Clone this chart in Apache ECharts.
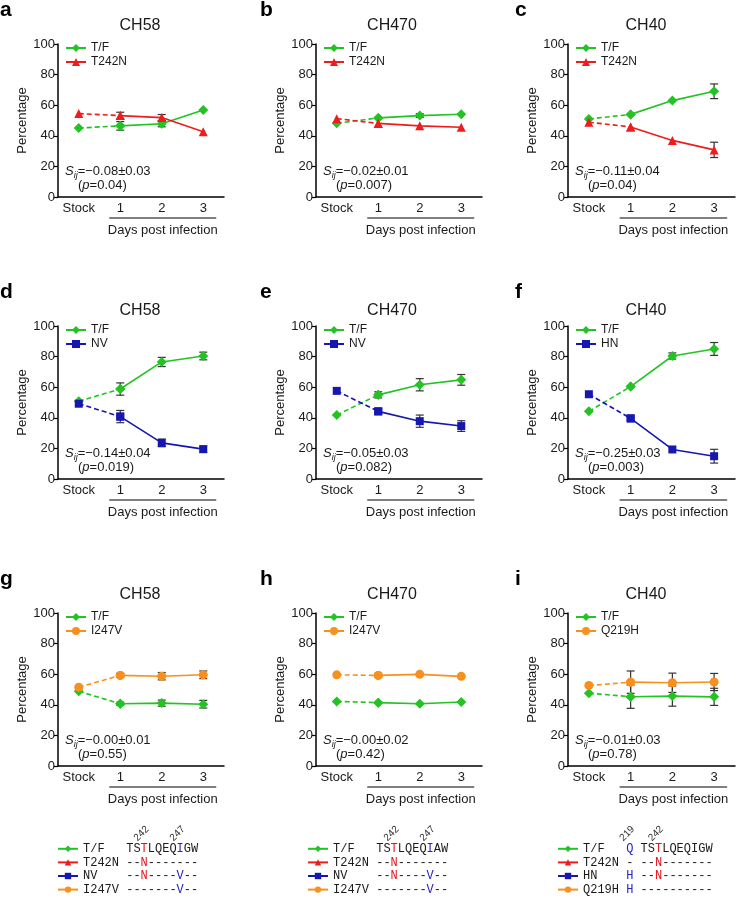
<!DOCTYPE html>
<html lang="en">
<head>
<meta charset="UTF-8">
<title>T/F vs variant competition</title>
<script src="https://cdn.jsdelivr.net/npm/echarts@6/dist/echarts.min.js"></script>
<style>
  html, body { margin: 0; padding: 0; background: #fff; }
  #main { width: 737px; height: 900px; }
</style>
</head>
<body>
<div id="main"></div>
<script>
const days = ['Stock', '1', '2', '3'];

// a-c : T/F vs T242N
const aTF = [45.1, 46.5, 47.9, 56.9], aTFErr = [0, 2.8, 2.0, 0];
const aMut = [54.5, 53.2, 51.9, 42.6], aMutErr = [0, 2.2, 2.0, 0];
const bTF = [48.2, 51.7, 53.2, 54.1], bTFErr = [0, 0, 1.2, 0];
const bMut = [51.2, 48.1, 46.5, 45.6], bMutErr = [0, 0, 0, 0];
const cTF = [51.0, 54.0, 63.0, 69.1], cTFErr = [0, 0, 0, 4.8];
const cMut = [48.9, 45.8, 37.0, 30.8], cMutErr = [0, 0, 0, 5.0];
// d-f : T/F vs NV / HN
const dTF = [50.8, 58.8, 76.5, 80.4], dTFErr = [0, 4.0, 3.0, 2.5];
const dMut = [49.2, 40.8, 23.6, 19.5], dMutErr = [0, 4.0, 2.5, 2.0];
const eTF = [41.8, 55.0, 61.6, 64.8], eTFErr = [0, 2.0, 4.0, 3.5];
const eMut = [57.6, 44.2, 37.8, 34.6], eMutErr = [0, 1.5, 4.0, 3.5];
const fTF = [44.2, 60.4, 80.4, 85.0], fTFErr = [0, 0, 2.0, 4.2];
const fMut = [55.4, 39.6, 19.3, 14.9], fMutErr = [0, 0, 0, 4.5];
// g-i : T/F vs I247V / Q219H
const gTF = [48.8, 40.7, 41.1, 40.4], gTFErr = [0, 1.0, 2.0, 2.5];
const gMut = [51.5, 59.2, 58.7, 59.6], gMutErr = [0, 1.0, 2.4, 2.5];
const hTF = [42.2, 41.4, 40.7, 41.8], hTFErr = [0, 0, 0, 0];
const hMut = [59.6, 59.2, 59.9, 58.6], hMutErr = [0, 0, 0, 0];
const iTF = [47.6, 45.3, 45.7, 45.2], iTFErr = [0, 7.6, 6.6, 5.6];
const iMut = [52.6, 54.8, 54.4, 54.9], iMutErr = [0, 7.3, 6.3, 5.6];

const letters = ['a', 'b', 'c', 'd', 'e', 'f', 'g', 'h', 'i'];
const titles = ['CH58', 'CH470', 'CH40', 'CH58', 'CH470', 'CH40', 'CH58', 'CH470', 'CH40'];
const mutNames = ['T242N', 'T242N', 'T242N', 'NV', 'NV', 'HN', 'I247V', 'I247V', 'Q219H'];
const sValues = ['−0.08±0.03', '−0.02±0.01', '−0.11±0.04', '−0.14±0.04', '−0.05±0.03', '−0.25±0.03', '−0.00±0.01', '−0.00±0.02', '−0.01±0.03'];
const pValues = ['0.04', '0.007', '0.04', '0.019', '0.082', '0.003', '0.55', '0.42', '0.78'];

const tfData = [aTF, bTF, cTF, dTF, eTF, fTF, gTF, hTF, iTF];
const tfErr = [aTFErr, bTFErr, cTFErr, dTFErr, eTFErr, fTFErr, gTFErr, hTFErr, iTFErr];
const mutData = [aMut, bMut, cMut, dMut, eMut, fMut, gMut, hMut, iMut];
const mutErr = [aMutErr, bMutErr, cMutErr, dMutErr, eMutErr, fMutErr, gMutErr, hMutErr, iMutErr];

const FONT = '"Liberation Sans", Arial, sans-serif';
const MONO = '"Liberation Mono", "DejaVu Sans Mono", monospace';
const GREEN = '#22c322', RED = '#ee1c1c', BLUE = '#1616b0', ORANGE = '#f7901e';
const INK = '#1a1a1a';

const markStyle = {
  'T/F':   { color: GREEN, symbol: 'diamond', size: 10 },
  'T242N': { color: RED, symbol: 'triangle', size: 9 },
  'NV':    { color: BLUE, symbol: 'rect', size: 8 },
  'HN':    { color: BLUE, symbol: 'rect', size: 8 },
  'I247V': { color: ORANGE, symbol: 'circle', size: 9 },
  'Q219H': { color: ORANGE, symbol: 'circle', size: 9 }
};

// layout
const colLeft = [58, 316, 568], colWidth = [166, 166, 167];
const rowTop = [44, 326, 613], gridH = 153;
const titleX = [140, 392, 646], titleTop = [18, 303, 587];
const letterX = [0, 260, 515];

const chart = echarts.init(document.getElementById('main'), null, { renderer: 'canvas' });

const option = {
  animation: false,
  textStyle: { fontFamily: FONT },
  title: [], grid: [], xAxis: [], yAxis: [], legend: [], series: []
};

function addLine(i, name, vals, errs) {
  const st = markStyle[name];
  const common = {
    type: 'line', xAxisIndex: i, yAxisIndex: i,
    symbol: st.symbol, symbolSize: st.size,
    itemStyle: { color: st.color },
    silent: true
  };
  // stock -> day 1 dashed
  option.series.push(Object.assign({}, common, {
    name: name + ' stock',
    data: vals.map((v, k) => (k <= 1 ? v : null)),
    lineStyle: { color: st.color, width: 1.6, type: [5, 3] }
  }));
  // day 1 -> 3 solid
  option.series.push(Object.assign({}, common, {
    name: name,
    data: vals.map((v, k) => (k >= 1 ? v : null)),
    lineStyle: { color: st.color, width: 1.6 }
  }));
  const errData = [];
  errs.forEach((e, k) => { if (e > 0) errData.push([k, vals[k] - e, vals[k] + e]); });
  option.series.push({
    type: 'custom', name: name + ' err', xAxisIndex: i, yAxisIndex: i, silent: true, z: 3,
    encode: { x: 0, y: [1, 2] },
    data: errData,
    renderItem: (params, api) => {
      const lo = api.coord([api.value(0), api.value(1)]);
      const hi = api.coord([api.value(0), api.value(2)]);
      const s = { stroke: '#333', lineWidth: 1.2 };
      return {
        type: 'group', children: [
          { type: 'line', shape: { x1: lo[0], y1: lo[1], x2: hi[0], y2: hi[1] }, style: s },
          { type: 'line', shape: { x1: lo[0] - 4, y1: lo[1], x2: lo[0] + 4, y2: lo[1] }, style: s },
          { type: 'line', shape: { x1: hi[0] - 4, y1: hi[1], x2: hi[0] + 4, y2: hi[1] }, style: s }
        ]
      };
    }
  });
}

for (let i = 0; i < 9; i++) {
  const row = Math.floor(i / 3), col = i % 3;
  const left = colLeft[col], top = rowTop[row];

  option.title.push({
    text: titles[i], left: titleX[col], top: titleTop[row], textAlign: 'center', padding: 0,
    textStyle: { fontSize: 16, fontWeight: 'normal', color: INK, fontFamily: FONT }
  });
  option.title.push({
    text: letters[i], left: letterX[col], top: top - 44, padding: 0,
    textStyle: { fontSize: 21, fontWeight: 'bold', color: '#000', fontFamily: FONT }
  });

  option.grid.push({ left: left, top: top, width: colWidth[col], height: gridH, outerBoundsMode: 'none' });

  option.xAxis.push({
    type: 'category', gridIndex: i, data: days, boundaryGap: true,
    axisLine: { lineStyle: { color: '#000', width: 1.5 } },
    axisTick: { alignWithLabel: true, length: 4, lineStyle: { color: '#000', width: 1.2 } },
    axisLabel: { interval: 0, margin: 5, fontSize: 13, color: INK, fontFamily: FONT },
    splitLine: { show: false }
  });

  option.yAxis.push({
    type: 'value', gridIndex: i, min: 0, max: 100, interval: 20,
    name: 'Percentage', nameLocation: 'middle', nameGap: 28,
    nameTextStyle: { fontSize: 13, color: INK, fontFamily: FONT },
    axisLine: { show: true, lineStyle: { color: '#000', width: 1.5 } },
    axisTick: { show: true, length: 4, lineStyle: { color: '#000', width: 1.2 } },
    axisLabel: { margin: 3, fontSize: 13, color: INK, fontFamily: FONT },
    splitLine: { show: false }
  });

  option.legend.push({
    data: ['T/F', mutNames[i]], left: left + 7, top: top - 3, orient: 'vertical',
    padding: 0, itemGap: 0, itemWidth: 20, itemHeight: 10, selectedMode: false,
    textStyle: { fontSize: 12, lineHeight: 14, color: INK, fontFamily: FONT }
  });

  addLine(i, 'T/F', tfData[i], tfErr[i]);
  addLine(i, mutNames[i], mutData[i], mutErr[i]);
}

// sequence key under each column
const seqRowsA = {
  'T/F': '{s|TS}{r|T}{s|LQEQ}{b|I}{s|GW}',
  'T242N': '{s|--}{r|N}{s|-------}',
  'NV': '{s|--}{r|N}{s|----}{b|V}{s|--}',
  'I247V': '{s|-------}{b|V}{s|--}'
};
const seqRowsB = {
  'T/F': '{s|TS}{r|T}{s|LQEQ}{b|I}{s|AW}',
  'T242N': '{s|--}{r|N}{s|-------}',
  'NV': '{s|--}{r|N}{s|----}{b|V}{s|--}',
  'I247V': '{s|-------}{b|V}{s|--}'
};
const seqRowsC = {
  'T/F': '{b|Q}{s| TS}{r|T}{s|LQEQIGW}',
  'T242N': '{s|- --}{r|N}{s|-------}',
  'HN': '{b|H}{s| --}{r|N}{s|-------}',
  'Q219H': '{b|H}{s| ----------}'
};
const keyLeft = [57, 307, 557];
const keyTop = 842;
const keySets = [seqRowsA, seqRowsB, seqRowsC];
const richMono = {
  n: { fontFamily: MONO, fontSize: 12, color: INK, lineHeight: 13.6 },
  s: { fontFamily: MONO, fontSize: 12, color: INK, lineHeight: 13.6 },
  r: { fontFamily: MONO, fontSize: 12, color: '#e8141c', lineHeight: 13.6 },
  b: { fontFamily: MONO, fontSize: 12, color: '#2424c8', lineHeight: 13.6 }
};
keySets.forEach((rows, c) => {
  option.legend.push({
    data: Object.keys(rows), left: keyLeft[c], top: keyTop, orient: 'vertical',
    padding: 0, itemGap: 0, itemWidth: 20, itemHeight: 8, selectedMode: false,
    formatter: (name) => '{n|' + name.padEnd(6, ' ') + '}' + rows[name],
    textStyle: { fontFamily: MONO, fontSize: 12, lineHeight: 13.6, color: INK, rich: richMono }
  });
});

chart.setOption(option);

// decorations positioned from the axes
const graphics = [];
const CW = 7.2; // mono char width at 12px
for (let i = 0; i < 9; i++) {
  const x1 = chart.convertToPixel({ xAxisIndex: i }, 1);
  const x3 = chart.convertToPixel({ xAxisIndex: i }, 3);
  const yb = chart.convertToPixel({ yAxisIndex: i }, 0);
  const left = colLeft[i % 3];
  graphics.push({
    type: 'line', silent: true,
    shape: { x1: x1 - 11, y1: yb + 21, x2: x3 + 13, y2: yb + 21 },
    style: { stroke: '#000', lineWidth: 1.2 }
  });
  graphics.push({
    type: 'text', silent: true, x: (x1 + x3) / 2 + 1, y: yb + 33,
    style: { text: 'Days post infection', font: '13px ' + FONT, fill: INK, align: 'center', verticalAlign: 'middle' }
  });
  graphics.push({
    type: 'text', silent: true, x: left + 7, y: yb - 26,
    style: {
      text: '{s|S}{sub|ij}{n|=' + sValues[i] + '}', verticalAlign: 'middle',
      rich: {
        s: { fontSize: 13, fontStyle: 'italic', fontFamily: FONT, fill: INK, lineHeight: 18 },
        sub: { fontSize: 9, fontStyle: 'italic', fontFamily: FONT, fill: INK, lineHeight: 18, verticalAlign: 'bottom' },
        n: { fontSize: 13, fontFamily: FONT, fill: INK, lineHeight: 18 }
      }
    }
  });
  graphics.push({
    type: 'text', silent: true, x: left + 20, y: yb - 12,
    style: {
      text: '{n|(}{i|p}{n|=' + pValues[i] + ')}', verticalAlign: 'middle',
      rich: {
        i: { fontSize: 13, fontStyle: 'italic', fontFamily: FONT, fill: INK },
        n: { fontSize: 13, fontFamily: FONT, fill: INK }
      }
    }
  });
}

// residue numbers over the sequence key
const seqStart = keyLeft.map((l) => l + 25 + 6 * CW);
const residueMarks = [
  [0, 2, '242'], [0, 7, '247'],
  [1, 2, '242'], [1, 7, '247'],
  [2, 0, '219'], [2, 4, '242']
];
residueMarks.forEach(([c, col, txt]) => {
  const cx = seqStart[c] + (col + 0.5) * CW;
  graphics.push({
    type: 'text', silent: true, x: cx - 4, y: keyTop + 1, rotation: Math.PI / 4,
    style: { text: txt, font: '10px ' + FONT, fill: '#333', align: 'left', verticalAlign: 'bottom' }
  });
});

chart.setOption({ graphic: graphics });
</script>
</body>
</html>
